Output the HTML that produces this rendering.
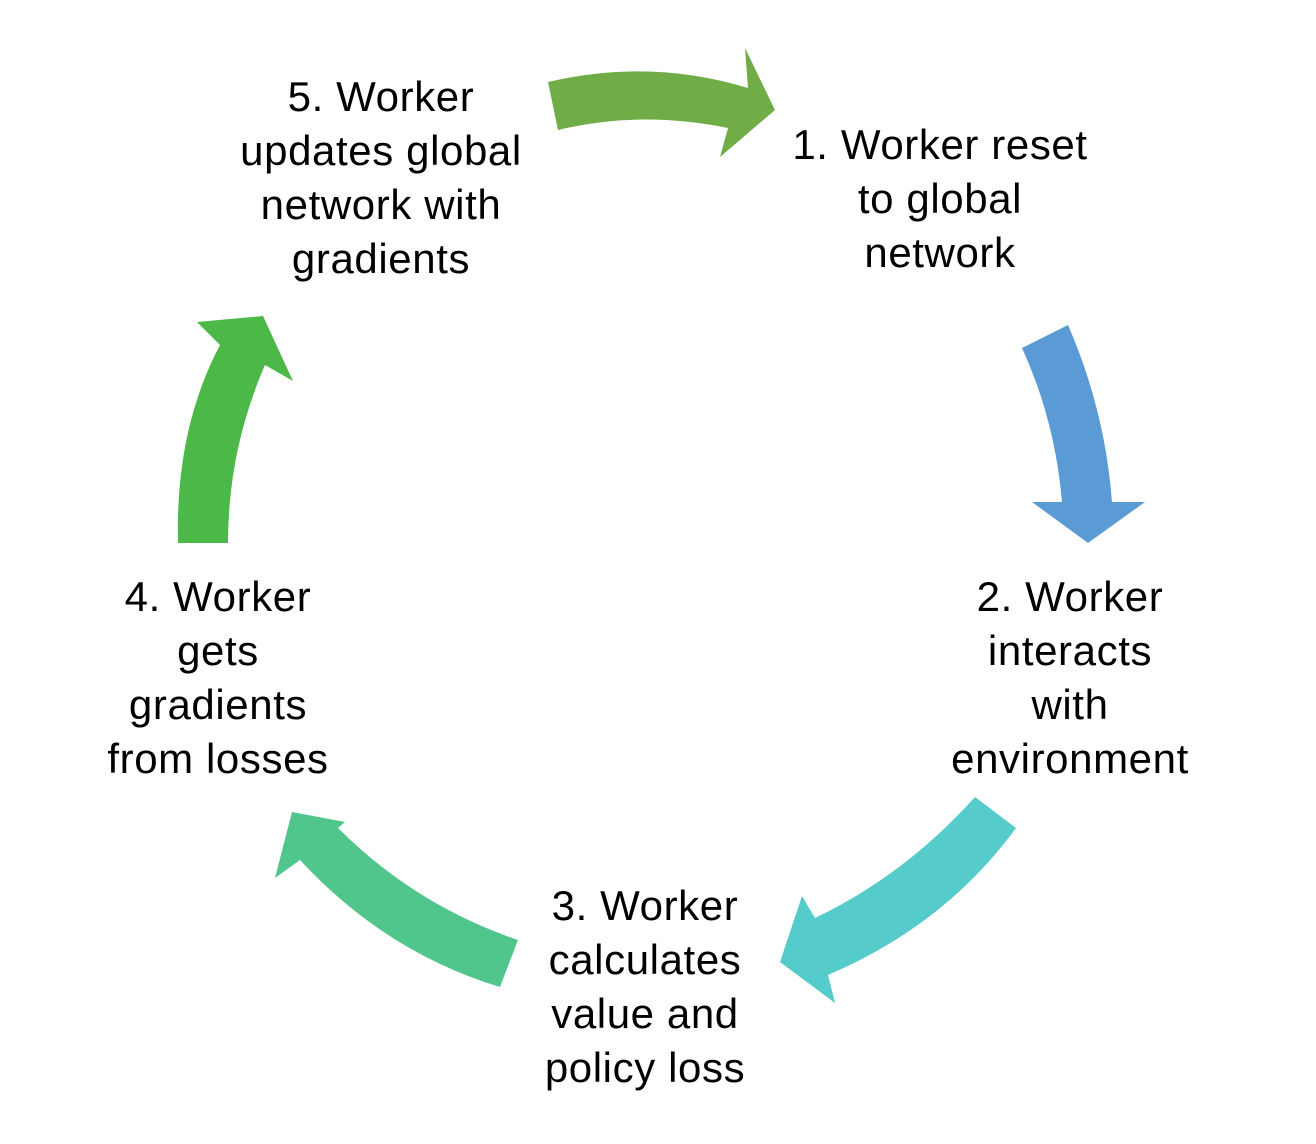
<!DOCTYPE html>
<html><head><meta charset="utf-8"><style>
html,body{margin:0;padding:0;background:#fff;}
#c{position:relative;width:1316px;height:1144px;overflow:hidden;}
svg{position:absolute;left:0;top:0;}
.t{position:absolute;font-family:"Liberation Sans",sans-serif;font-size:42px;letter-spacing:0.6px;line-height:54px;text-align:center;color:#000;white-space:nowrap;transform:translateX(-50%);}
</style></head><body><div id="c">
<svg width="1316" height="1144">
<path d="M548,82 Q650,58 748,88 L745,48 L775,110 L720,157 L728,128 Q640,110 558,130 Z" fill="#70AD47"/>
<path d="M1022,348 Q1055,420 1062,502 L1032,502 L1088,543 L1145,502 L1112,502 Q1105,410 1068,325 Z" fill="#5B9BD5"/>
<path d="M975,797 Q905,875 815,918 L802,896 L780,962 L835,1003 L828,975 Q945,925 1016,828 Z" fill="#56CBCB"/>
<path d="M518,940 Q415,905 338,828 L345,822 L292,812 L275,878 L300,860 Q385,952 500,987 Z" fill="#50C68C"/>
<path d="M178,543 Q175,430 220,345 L197,322 L263,316 L293,381 L265,365 Q228,450 228,543 Z" fill="#4BB848"/>
</svg>
<div class="t" style="left:381px;top:70px">5. Worker<br>updates global<br>network with<br>gradients</div>
<div class="t" style="left:940px;top:118px">1. Worker reset<br>to global<br>network</div>
<div class="t" style="left:1070px;top:570px">2. Worker<br>interacts<br>with<br>environment</div>
<div class="t" style="left:645px;top:879px">3. Worker<br>calculates<br>value and<br>policy loss</div>
<div class="t" style="left:218px;top:570px">4. Worker<br>gets<br>gradients<br>from losses</div>
</div></body></html>
